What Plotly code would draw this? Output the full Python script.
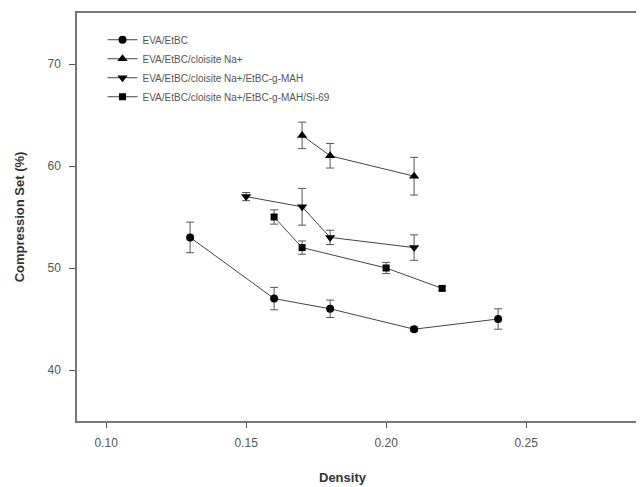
import plotly.graph_objects as go

names = ["EVA/EtBC", "EVA/EtBC/cloisite Na+", "EVA/EtBC/cloisite Na+/EtBC-g-MAH",
         "EVA/EtBC/cloisite Na+/EtBC-g-MAH/Si-69"]
symbols = ["circle", "triangle-up", "triangle-down", "square"]
msizes = [8, 9, 9, 7]

x_circ = [0.13, 0.16, 0.18, 0.21, 0.24]
y_circ = [53, 47, 46, 44, 45]
e_circ = [1.5, 1.1, 0.85, 0.2, 1.0]

x_tri = [0.17, 0.18, 0.21]
y_tri = [63, 61, 59]
e_tri = [1.3, 1.2, 1.85]

x_dtri = [0.15, 0.17, 0.18, 0.21]
y_dtri = [57, 56, 53, 52]
e_dtri = [0.4, 1.8, 0.7, 1.25]

x_sq = [0.16, 0.17, 0.20, 0.22]
y_sq = [55, 52, 50, 48]
e_sq = [0.7, 0.65, 0.55, 0.2]

xs = [x_circ, x_tri, x_dtri, x_sq]
ys = [y_circ, y_tri, y_dtri, y_sq]
es = [e_circ, e_tri, e_dtri, e_sq]

fig = go.Figure()
for n, s, ms, x, y, e in zip(names, symbols, msizes, xs, ys, es):
    fig.add_trace(go.Scatter(
        x=x, y=y, name=n, mode="lines+markers",
        line=dict(color="#444444", width=1),
        marker=dict(symbol=s, size=ms, color="black"),
        error_y=dict(type="data", array=e, visible=True, color="#555555",
                     thickness=1, width=4),
    ))

fig.update_layout(
    width=636, height=479,
    margin=dict(l=69, r=0, t=5, b=66),
    paper_bgcolor="white", plot_bgcolor="white",
    font=dict(family="Liberation Sans, Arial, sans-serif", color="#555555"),
    showlegend=True,
    legend=dict(x=0.045, y=0.97, xanchor="left", yanchor="top",
                font=dict(size=10, color="#555555"), bgcolor="rgba(0,0,0,0)",
                tracegroupgap=0),
    xaxis=dict(range=[0.0896, 0.2921], tickvals=[0.10, 0.15, 0.20, 0.25],
               ticktext=["0.10", "0.15", "0.20", "0.25"],
               showgrid=False, zeroline=False, showline=True, linecolor="#777777",
               linewidth=1.5, mirror=True, ticks="outside", ticklen=5,
               tickcolor="#555555", ticklabelstandoff=5,
               tickfont=dict(size=12, color="#555555")),
    yaxis=dict(range=[35, 75], tickvals=[40, 50, 60, 70],
               showgrid=False, zeroline=False, showline=True, linecolor="#777777",
               linewidth=1.5, ticks="outside", ticklen=6, tickcolor="#555555",
               ticklabelstandoff=6,
               tickfont=dict(size=12, color="#555555"),
               title=dict(text="<b>Compression Set (%)</b>", standoff=20,
                          font=dict(size=13, color="#333333"))),
    annotations=[dict(text="<b>Density</b>", xref="paper", yref="paper",
                      x=0.469, y=-0.139, xanchor="center", yanchor="middle",
                      showarrow=False, font=dict(size=13, color="#333333"))],
)

fig.write_html("out.html")
